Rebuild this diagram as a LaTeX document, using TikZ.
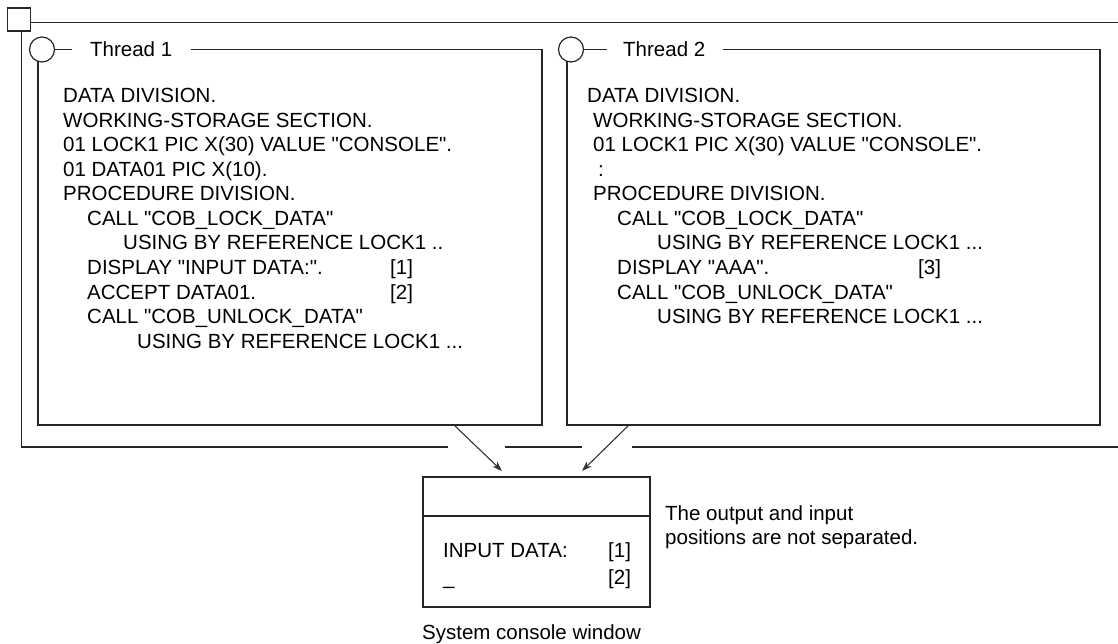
\documentclass[tikz,border=0pt]{standalone}
\usepackage{fontspec}
\setmainfont{Liberation Sans}
\newfontfamily\codefont{Liberation Sans}
\usetikzlibrary{arrows.meta}
\tikzset{
  code/.style={anchor=base west, inner sep=0pt, font=\codefont\fontsize{20.5}{24.5}\selectfont},
  frame/.style={line width=1.2pt, draw=black!85},
  ring/.style={draw, circle, frame, minimum size=25pt, inner sep=0pt},
  flow/.style={line width=1.1pt, draw=black!80, -{Stealth[length=10pt,width=7pt]}},
}

\begin{document}
\begin{tikzpicture}[x=1pt,y=-1pt]
        \useasboundingbox (0,0) rectangle (1118,644);

        % Process frame
        \node[draw, frame, minimum size=23pt, inner sep=0pt] (sq) at (19,19.5) {};
        \draw[frame] (31,22.5) -- (1118,22.5);
        \draw[frame] (21.5,31) -- (21.5,447) -- (448,447);
        \draw[frame] (505,447) -- (582,447); \draw[frame] (632,447) -- (1118,447);

        % Thread 1
        \node[ring] (c1) at (42,49.5) {};
        \node[code] (th1) at (90,57) {Thread 1};
        \draw[frame] (c1.east) -- (72,49.5); \draw[frame] (191,49.5) -- (542,49.5) -- (542,425) -- (38,425) -- (38,61.3);

        % Thread 2
        \node[ring] (c2) at (571,49.5) {};
        \node[code] (th2) at (623,57) {Thread 2};
        \draw[frame] (c2.east) -- (607,49.5); \draw[frame] (723,49.5) -- (1100,49.5) -- (1100,425) -- (567,425) -- (567,61.3);

        % Source of thread 1
        \node[code] (l1) at (63,103) {DATA DIVISION.};
        \node[code] (l2) at (63,127.5) {WORKING-STORAGE SECTION.};
        \node[code] (l3) at (63,152) {01 LOCK1 PIC X(30) VALUE "CONSOLE".};
        \node[code] (l4) at (63,176.5) {01 DATA01 PIC X(10).};
        \node[code] (l5) at (63,201) {PROCEDURE DIVISION.};
        \node[code] (l6) at (87,225.5) {CALL "COB\_LOCK\_DATA"};
        \node[code] (l7) at (123,250) {USING BY REFERENCE LOCK1 ..};
        \node[code] (l8) at (87,274.5) {DISPLAY "INPUT DATA:".};
        \node[code] (m1) at (390,274.5) {[1]};
        \node[code] (l9) at (87,299) {ACCEPT DATA01.};
        \node[code] (m2) at (390,299) {[2]};
        \node[code] (l10) at (87,323.5) {CALL "COB\_UNLOCK\_DATA"};
        \node[code] (l11) at (137,348) {USING BY REFERENCE LOCK1 ...};

        % Source of thread 2
        \node[code] (r1) at (587,103) {DATA DIVISION.};
        \node[code] (r2) at (593,127.5) {WORKING-STORAGE SECTION.};
        \node[code] (r3) at (593,152) {01 LOCK1 PIC X(30) VALUE "CONSOLE".};
        \node[code] (r4) at (598,176.5) {:};
        \node[code] (r5) at (593,201) {PROCEDURE DIVISION.};
        \node[code] (r6) at (617,225.5) {CALL "COB\_LOCK\_DATA"};
        \node[code] (r7) at (657,250) {USING BY REFERENCE LOCK1 ...};
        \node[code] (r8) at (617,274.5) {DISPLAY "AAA".};
        \node[code] (m3) at (918,274.5) {[3]};
        \node[code] (r9) at (617,299) {CALL "COB\_UNLOCK\_DATA"};
        \node[code] (r10) at (657,323.5) {USING BY REFERENCE LOCK1 ...};

        % System console window
        \node[draw, frame, minimum width=227pt, minimum height=130pt, inner sep=0pt] (con) at (536.5,542) {};
        \draw[frame] (423,516) -- (650,516);
        \node[code] (w1) at (443,557.5) {INPUT DATA:};
        \node[code] (w2) at (608,557.5) {[1]};
        \node[code] (w3) at (443,584.5) {\_};
        \node[code] (w4) at (608,584.5) {[2]};
        \node[code] (cap) at (422,639.5) {System console window};
        \node[code] (n1) at (665,520) {The output and input};
        \node[code] (n2) at (665,544.5) {positions are not separated.};

        % Output to the console
        \coordinate (o1) at (455,426); \coordinate (i1) at (502,471);
        \coordinate (o2) at (628,426); \coordinate (i2) at (582,471);
        \draw[flow] (o1) -- (i1);
        \draw[flow] (o2) -- (i2);
\end{tikzpicture}
\end{document}
